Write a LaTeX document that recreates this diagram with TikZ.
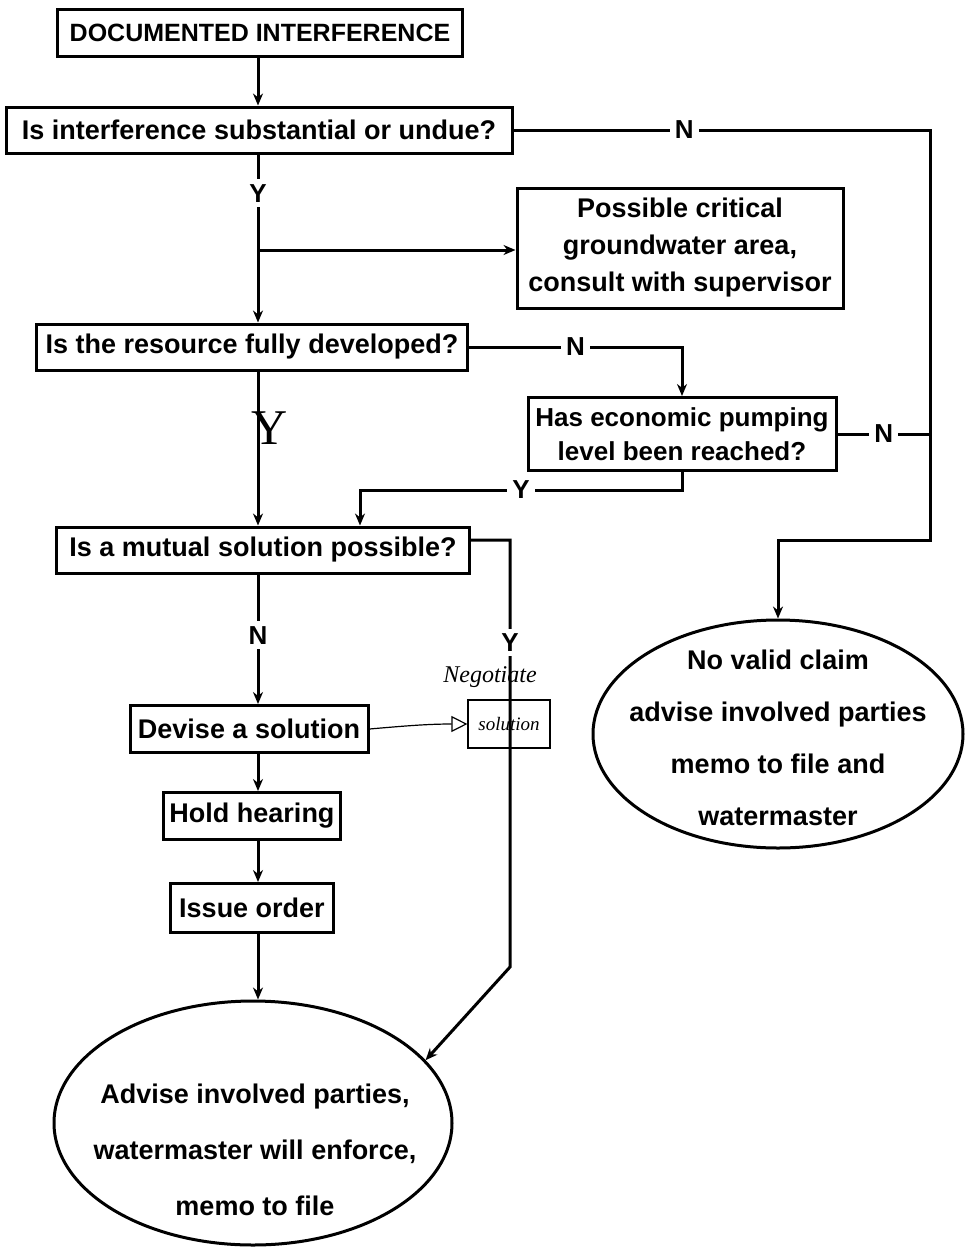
\documentclass[tikz,border=0pt]{standalone}
\usepackage{fontspec}
\setmainfont{Liberation Sans}
\newfontfamily\handfont{Liberation Serif}
\usetikzlibrary{shapes.geometric,arrows.meta}

\tikzset{
  box/.style={draw, line width=3pt, align=center, inner sep=0pt,
    font=\bfseries\fontsize{27}{37}\selectfont},
  oval/.style={ellipse, draw, line width=3pt, inner sep=0pt},
  ovaltext/.style={align=center, font=\bfseries\fontsize{27}{#1}\selectfont},
  lbl/.style={fill=white, inner sep=5pt, font=\bfseries\fontsize{26}{26}\selectfont},
  line/.style={line width=3pt},
  link/.style={line width=3pt, -{Stealth[length=12pt,width=10pt]}},
  hand/.style={font=\handfont\itshape\fontsize{24}{24}\selectfont},
}

\begin{document}
\begin{tikzpicture}[x=1pt, y=-1pt]
\useasboundingbox (0,0) rectangle (966,1248);

% main column
\node[box, minimum width=405pt, minimum height=47pt,
  font=\bfseries\fontsize{25}{25}\selectfont] (doc) at (260,33) {DOCUMENTED INTERFERENCE};
\node[box, minimum width=506pt, minimum height=46pt] (subst) at (259,130) {Is interference substantial or undue?};
\node[box, minimum width=431pt, minimum height=46pt] (res) at (252,347) {Is the resource fully developed?};
\node[box, minimum width=413pt, minimum height=46pt] (mutual) at (263,550) {Is a mutual solution possible?};
\node[box, minimum width=238pt, minimum height=47pt] (devise) at (249,729) {Devise a solution};
\node[box, minimum width=177pt, minimum height=47pt] (hearing) at (252,816) {Hold hearing};
\node[box, minimum width=163pt, minimum height=49pt] (issue) at (252,908) {Issue order};
\node[oval, minimum width=398pt, minimum height=244pt] (advise) at (253,1123) {};
\node[ovaltext=56] (advtxt) at (255,1150)
  {Advise involved parties,\\ watermaster will enforce,\\ memo to file};

% right side
\node[box, minimum width=326pt, minimum height=120pt] (crit) at (680,248)
  {Possible critical\\ groundwater area,\\ consult with supervisor};
\node[box, minimum width=308pt, minimum height=73pt,
  font=\bfseries\fontsize{26}{34}\selectfont] (econ) at (682,434)
  {Has economic pumping\\ level been reached?};
\node[oval, minimum width=370pt, minimum height=228pt] (noclaim) at (778,734) {};
\node[ovaltext=52] (nctxt) at (778,738)
  {No valid claim\\ advise involved parties\\ memo to file and\\ watermaster};

% handwritten note
\node[draw, line width=1.2pt, minimum width=82pt, minimum height=48pt,
  font=\handfont\itshape\fontsize{19}{19}\selectfont] (neg) at (509,724) {solution};
\node[hand] (negtxt) at (490,677) {Negotiate};

\coordinate (spine) at (258,0);
\coordinate (br) at (258,250);
\coordinate (rtop) at (930,130);
\coordinate (rbot) at (930,540);
\coordinate (ycorner) at (360,490);
\coordinate (ydrop) at (510,967);

\draw[link] (doc.south -| spine) -- (subst.north -| spine);
\draw[link] (subst.south -| spine) -- node[lbl, pos=0.23] {Y} (res.north -| spine);
\draw[link] (br) -- (br -| crit.west);
\draw[link] (subst.east) -- node[lbl, pos=0.41] {N} (rtop) -- (rbot) -| (noclaim.north);
\draw[link] (res.east) -| node[lbl, pos=0.25] {N} (econ.north);
\draw[line] (econ.east) -- node[lbl] {N} (econ.east -| rtop);
\draw[link] (econ.south) |- node[lbl, pos=0.75] {Y} (ycorner) -- (ycorner |- mutual.north);
\draw[link] (res.south -| spine) -- node[pos=0.37, xshift=12pt,
  font=\handfont\fontsize{50}{50}\selectfont] {Y} (mutual.north -| spine);
\draw[link] (mutual.south -| spine) -- node[lbl, pos=0.47] {N} (devise.north -| spine);
\draw[link] ([yshift=10pt]mutual.east) -| node[lbl, pos=0.62] {Y} (ydrop) -- (advise.20);
\draw[link] (devise.south -| spine) -- (hearing.north -| spine);
\draw[link] (hearing.south -| spine) -- (issue.north -| spine);
\draw[link] (issue.south -| spine) -- (advise.north -| spine);
\draw[line width=1.2pt, -{Triangle[open, length=16pt, width=16pt]}]
  (devise.east) to[out=5, in=180] (neg.west);
\end{tikzpicture}
\end{document}
